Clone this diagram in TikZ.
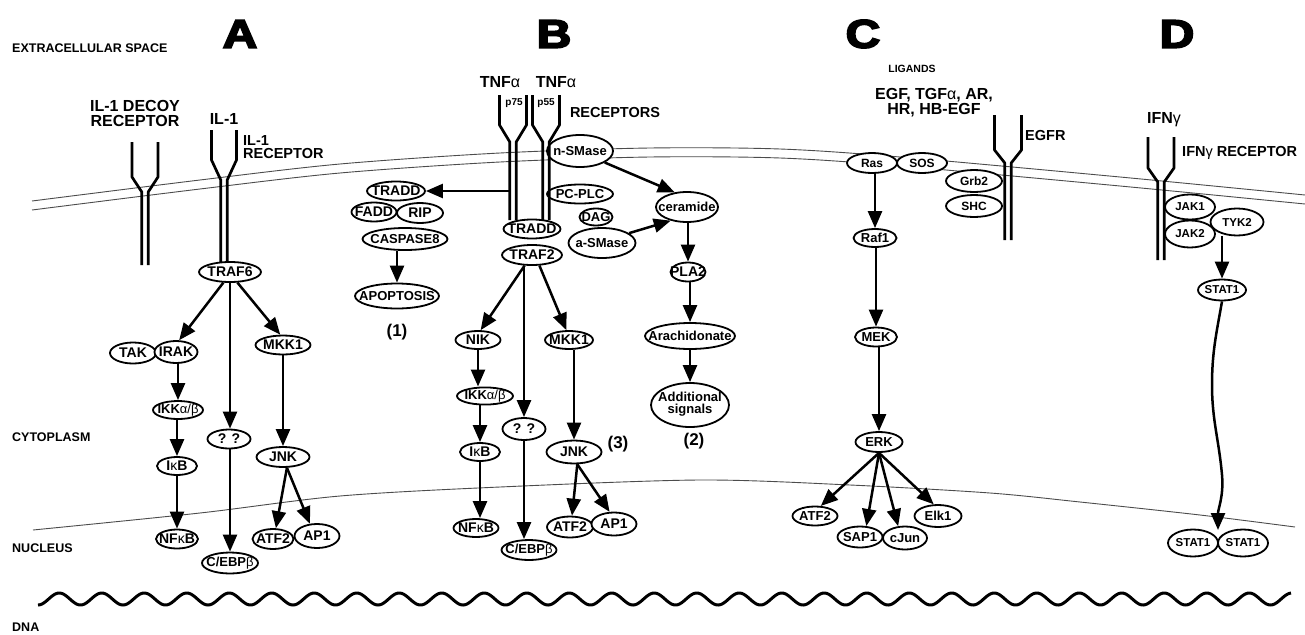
\documentclass[tikz,border=0pt]{standalone}
\usepackage{fontspec}
\setmainfont{Liberation Sans}
\newfontface\heavyfont[FakeBold=4]{Liberation Sans Bold}
\usetikzlibrary{shapes.geometric,arrows.meta}
\newcommand\gr[1]{\textmd{#1}}
\newcommand\prot[7][]{\node[prot,#1,minimum width=#5pt,minimum height=#6pt] (#2) at (#3,#4) {\makebox[0pt]{#7}};}
\newcommand\rcp[6]{% cx, ytop, y1, y2, ybot, halftop
  \draw[strand] ({#1-#6},#2) -- ({#1-#6},#3) -- ({#1-3.2},#4) -- ({#1-3.2},#5);
  \draw[strand] ({#1+#6},#2) -- ({#1+#6},#3) -- ({#1+3.2},#4) -- ({#1+3.2},#5);}
\begin{document}
\begin{tikzpicture}[x=1pt,y=-1pt,
  prot/.style={ellipse, draw, fill=white, line width=1.8pt, inner sep=0pt, font=\fontsize{14}{15}\selectfont\bfseries},
  s13/.style={font=\fontsize{13}{14}\selectfont\bfseries},
  small/.style={font=\fontsize{12}{13}\selectfont\bfseries},
  tiny/.style={font=\fontsize{11.5}{12}\selectfont\bfseries},
  arr/.style={line width=2.5pt, -{Triangle[length=17pt,width=14pt]}},
  strand/.style={line width=2.7pt, line join=round},
  memb/.style={line width=0.9pt, black!70},
  region/.style={inner sep=0pt, anchor=west, font=\fontsize{12.5}{14}\selectfont\bfseries},
  big/.style={inner sep=0pt, font=\fontsize{16}{18}\selectfont\bfseries},
  mid/.style={inner sep=0pt, font=\fontsize{14.5}{16}\selectfont\bfseries},
  letter/.style={inner sep=0pt, xscale=1.2, font=\fontsize{40}{40}\selectfont\heavyfont},
]
\fill[white] (0,0) rectangle (1305,634);
\useasboundingbox (0,0) rectangle (1305,634);

% membranes
\draw[memb] plot[smooth] coordinates {(32,201) (200,180) (340,164) (500,153) (650,148) (780,149) (900,157) (1120,177) (1305,195)};
\draw[memb] plot[smooth] coordinates {(32,210) (200,189) (340,173) (500,162) (650,157) (780,158) (900,166) (1120,186) (1305,204)};
\draw[memb] plot[smooth] coordinates {(33,530) (200,513) (340,496) (500,487) (700,480) (850,485) (990,493) (1080,502) (1200,515) (1295,527)};
% DNA
\draw[line width=3pt] plot[domain=38:1291, samples=900] (\x,{599+6*cos((\x-38)*8.470588)});

% region labels
\node[region] (lext) at (12,48) {EXTRACELLULAR SPACE};
\node[region] (lcyt) at (12,437) {CYTOPLASM};
\node[region] (lnuc) at (12,548) {NUCLEUS};
\node[region] (ldna) at (12,627) {DNA};
\node[letter] (la) at (240,34) {A};
\node[letter] (lb) at (554,34) {B};
\node[letter] (lc) at (863,34) {C};
\node[letter] (ld) at (1177,34) {D};

% ---------------- Panel A
\prot{traf6}{230}{272}{62}{20}{TRAF6}
\prot{tak}{133}{353}{46}{21}{TAK}
\prot{irak}{176}{352}{43}{22}{IRAK}
\prot{mkk1a}{283}{345}{55}{19}{MKK1}
\prot[s13]{ikka}{178}{410}{50}{18}{IKK\gr{α/β}}
\prot{qqa}{229}{439}{43}{19}{? ?}
\prot{ikba}{177}{466}{40}{18}{I\gr{κ}B}
\prot{nfkba}{177}{539}{42}{19}{NF\gr{κ}B}
\prot[s13]{cebpa}{230}{563}{56}{21}{C/EBP\gr{β}}
\prot{jnka}{283}{457}{53}{20}{JNK}
\prot{atf2a}{273}{539}{41}{20}{ATF2}
\prot{ap1a}{317}{536}{45}{24}{AP1}

\rcp{145}{142}{177}{192}{265}{13}
\rcp{224}{130}{160}{180}{262}{12.5}
\node[big,align=center] (ldecoy) at (135,113) {IL-1 DECOY\\[-3pt]RECEPTOR};
\node[big] (lil1) at (224,119) {IL-1};
\node[mid,align=left,anchor=west] (lil1r) at (243,147) {IL-1\\[-3pt]RECEPTOR};

\draw[arr] (traf6.238) -- (irak.75);
\draw[arr] (traf6.-55) -- (mkk1a.105);
\draw[arr] (traf6.south) -- (traf6.south |- qqa.north);
\draw[arr] (ikka.north |- irak.south) -- (ikka.north);
\draw[arr] (ikba.north |- ikka.south) -- (ikba.north);
\draw[arr] (nfkba.north |- ikba.south) -- (nfkba.north);
\draw[arr] (cebpa.north |- qqa.south) -- (cebpa.north);
\draw[arr] (jnka.north |- mkk1a.south) -- (jnka.north);
\draw[arr] (jnka.-70) -- (atf2a.75);
\draw[arr] (jnka.-70) -- (ap1a.120);

% ---------------- Panel B
\prot{traddb}{396}{191}{58}{19}{TRADD}
\prot{fadd}{374}{212}{45}{19}{FADD}
\prot{rip}{420}{213}{46}{20}{RIP}
\prot[s13]{casp8}{405}{239}{85}{22}{CASPASE8}
\prot[s13]{apop}{397}{296}{84}{25}{APOPTOSIS}
\prot{tradd}{532}{229}{57}{19}{TRADD}
\prot{traf2}{532}{255}{60}{20}{TRAF2}
\prot[s13]{nsmase}{580}{151}{66}{32}{n-SMase}
\prot[s13]{pcplc}{580}{194}{66}{19}{PC-PLC}
\prot[s13]{dag}{596}{217}{33}{17}{DAG}
\prot[s13]{asmase}{602}{243}{67}{30}{a-SMase}
\prot[s13]{ceramide}{687}{207}{62}{30}{ceramide}
\prot{pla2}{688}{272}{35}{19}{PLA2}
\prot[s13]{arach}{690}{336}{90}{26}{Arachidonate}
\prot[s13]{addsig}{690}{405}{78}{44}{\begin{tabular}{@{}c@{}}Additional\\[-2pt]signals\end{tabular}}
\prot{nik}{478}{340}{45}{18}{NIK}
\prot{mkk1b}{569}{340}{48}{18}{MKK1}
\prot[s13]{ikkb}{485}{396}{56}{17}{IKK\gr{α/β}}
\prot{qqb}{524}{429}{43}{22}{? ?}
\prot{ikbb}{480}{452}{40}{18}{I\gr{κ}B}
\prot{nfkbb}{476}{528}{45}{18}{NF\gr{κ}B}
\prot[s13]{cebpb}{529}{550}{55}{20}{C/EBP\gr{β}}
\prot{jnkb}{574}{452}{55}{23}{JNK}
\prot{atf2b}{570}{527}{46}{21}{ATF2}
\prot{ap1b}{614}{524}{45}{23}{AP1}

\rcp{513}{95}{125}{142}{220}{13.5}
\rcp{546}{95}{125}{142}{220}{13.5}
\node[big] (ltnf1) at (500,82) {TNF\gr{α}};
\node[big] (ltnf2) at (556,82) {TNF\gr{α}};
\node[inner sep=0pt,font=\fontsize{10}{11}\selectfont\bfseries] (lp75) at (514,103) {p75};
\node[inner sep=0pt,font=\fontsize{10}{11}\selectfont\bfseries] (lp55) at (546,103) {p55};
\node[mid] (lrec) at (615,113) {RECEPTORS};
\node[big,font=\fontsize{17}{18}\selectfont\bfseries] (l1) at (397,332) {(1)};
\node[big,font=\fontsize{17}{18}\selectfont\bfseries] (l2) at (694,441) {(2)};
\node[big,font=\fontsize{17}{18}\selectfont\bfseries] (l3) at (618,444) {(3)};

\coordinate (rcpB) at (509.5,191);
\draw[arr] (rcpB) -- (traddb.east);
\draw[arr] (apop.north |- casp8.south) -- (apop.north);
\draw[arr] (traf2.235) -- (nik.75);
\draw[arr] (traf2.-55) -- (mkk1b.105);
\draw[arr] (qqb.north |- traf2.south) -- (qqb.north);
\draw[arr] (nsmase.-25) -- (ceramide.130);
\draw[arr] (asmase.20) -- (ceramide.-140);
\draw[arr] (pla2.north |- ceramide.south) -- (pla2.north);
\draw[arr] (arach.north |- pla2.south) -- (arach.north);
\draw[arr] (addsig.north |- arach.south) -- (addsig.north);
\draw[arr] (nik.south) -- (nik.south |- ikkb.north);
\draw[arr] (ikbb.north |- ikkb.south) -- (ikbb.north);
\draw[arr] (ikbb.south) -- (ikbb.south |- nfkbb.north);
\draw[arr] (qqb.south) -- (qqb.south |- cebpb.north);
\draw[arr] (jnkb.north |- mkk1b.south) -- (jnkb.north);
\draw[arr] (jnkb.-75) -- (atf2b.80);
\draw[arr] (jnkb.-75) -- (ap1b.110);

% ---------------- Panel C
\prot[small]{ras}{872}{163}{50}{20}{Ras}
\prot[small]{sos}{922}{163}{50}{20}{SOS}
\prot[small]{grb2}{974}{181}{56}{22}{Grb2}
\prot[small]{shc}{974}{206}{56}{22}{SHC}
\prot[s13]{raf1}{875}{238}{43}{18}{Raf1}
\prot[s13]{mek}{876}{337}{42}{19}{MEK}
\prot[s13]{erk}{879}{442}{47}{20}{ERK}
\prot[s13]{atf2c}{815}{516}{45}{19}{ATF2}
\prot[s13]{sap1}{860}{537}{45}{21}{SAP1}
\prot[s13]{cjun}{905}{538}{44}{23}{cJun}
\prot[s13]{elk1}{938}{516}{47}{22}{Elk1}

\rcp{1008}{115}{150}{163}{240}{13.5}
\node[inner sep=0pt,font=\fontsize{10.5}{11}\selectfont\bfseries] (llig) at (912,69) {LIGANDS};
\node[big,align=center] (legf) at (934,103) {EGF, TGF\gr{α}, AR,\\[-3pt]HR, HB-EGF};
\node[mid,anchor=west] (legfr) at (1025,136) {EGFR};

\draw[arr] (raf1.north |- ras.south) -- (raf1.north);
\draw[arr] (mek.north |- raf1.south) -- (mek.north);
\draw[arr] (erk.north |- mek.south) -- (erk.north);
\draw[arr] (erk.south) -- (atf2c.60);
\draw[arr] (erk.south) -- (sap1.60);
\draw[arr] (erk.south) -- (cjun.120);
\draw[arr] (erk.south) -- (elk1.110);

% ---------------- Panel D
\prot[tiny]{jak1}{1190}{207}{50}{25}{JAK1}
\prot[tiny]{tyk2}{1237}{222}{53}{27}{TYK2}
\prot[tiny]{jak2}{1190}{234}{50}{27}{JAK2}
\prot[tiny]{stat1}{1222}{290}{48}{21}{STAT1}
\prot[tiny]{stata}{1193}{543}{50}{27}{STAT1}
\prot[tiny]{statb}{1243}{543}{50}{27}{STAT1}

\rcp{1161}{137}{168}{182}{260}{13}
\node[big] (lifn) at (1164,120) {IFN\gr{γ}};
\node[mid,anchor=west] (lifnr) at (1182,153) {IFN\gr{γ} RECEPTOR};

\draw[arr] (stat1.north |- tyk2.south) -- (stat1.north);
\coordinate (dimtop) at (1218,530);
\draw[arr] (stat1.south) to[out=-100,in=90] (1212,385) to[out=-90,in=95] (1222,475) to[out=-85,in=90] (dimtop);
\end{tikzpicture}
\end{document}
